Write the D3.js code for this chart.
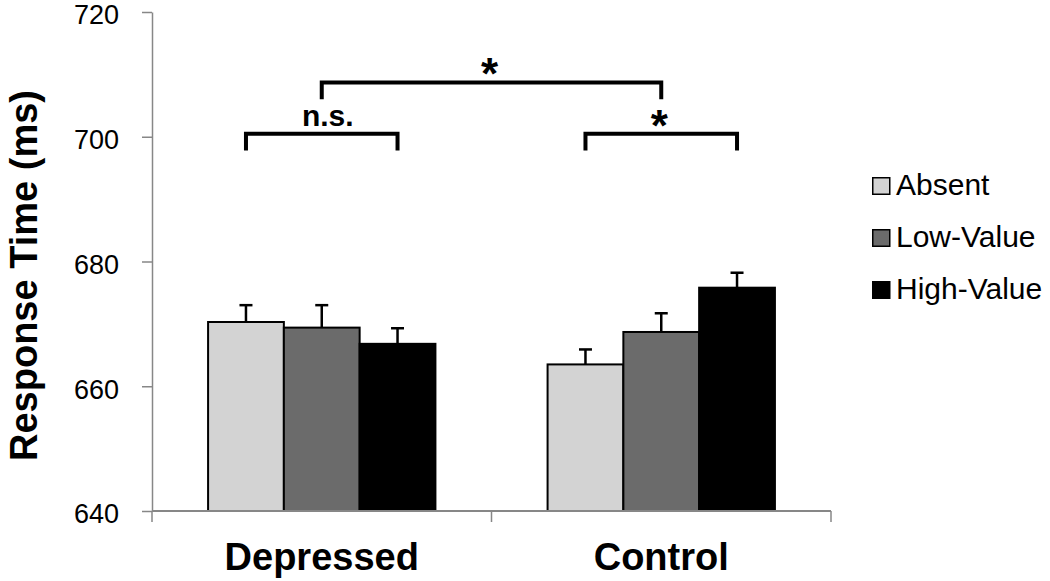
<!DOCTYPE html>
<html>
<head>
<meta charset="utf-8">
<script src="https://cdn.jsdelivr.net/npm/d3@7"></script>
<style>
  html, body { margin: 0; padding: 0; background: #fff; }
  svg { display: block; }
  text { font-family: "Liberation Sans", Arial, Helvetica, sans-serif; fill: #000; }
</style>
</head>
<body>
<svg id="chart" width="1050" height="581"></svg>
<script>
// ---- data ----
const groups = ["Depressed", "Control"];
const series = ["Absent", "Low-Value", "High-Value"];
const meansDepressed = [670.3, 669.4, 666.8];
const meansControl = [663.5, 668.7, 675.8];
const errDepressed = [2.7, 3.6, 2.5];
const errControl = [2.4, 3.0, 2.4];
const yTicks = [640, 660, 680, 700, 720];
const colors = ["#d3d3d3", "#6b6b6b", "#000000"];
// significance brackets: [group, series] endpoints, bar level and leg bottom (ms)
const brackets = [
  { from: [0, 0], to: [0, 2], top: 700.5, bottom: 697.8, label: "n.s." },
  { from: [0, 1], to: [1, 1], top: 708.7, bottom: 706.0, label: "*" },
  { from: [1, 0], to: [1, 2], top: 700.5, bottom: 697.8, label: "*" }
];

(function () {
const means = [meansDepressed, meansControl];
const errs = [errDepressed, errControl];
const rows = [];
groups.forEach((g, gi) => series.forEach((s, si) => rows.push({ g, gi, s, si, v: means[gi][si], e: errs[gi][si] })));

// ---- layout ----
const svg = d3.select("#chart");
const mLeft = 152, mRight = 831, mTop = 12, mBottom = 511;

const y = d3.scaleLinear().domain([640, 720]).range([mBottom, mTop]);
const x0 = d3.scaleBand().domain(groups).range([mLeft, mRight]).padding(0);
const x1 = d3.scaleBand().domain(series).range([0, x0.bandwidth()]).paddingInner(0).paddingOuter(0.74);
const color = d3.scaleOrdinal().domain(series).range(colors);
const cx = (gi, si) => x0(groups[gi]) + x1(series[si]) + x1.bandwidth() / 2;

// y axis
const yAxis = svg.append("g")
  .attr("transform", `translate(${mLeft},0)`)
  .call(d3.axisLeft(y).tickValues(yTicks).tickSize(10).tickSizeOuter(0).tickPadding(23).tickFormat(d3.format("d")));
yAxis.select(".domain").attr("stroke", "#878787").attr("stroke-width", 1.5);
yAxis.selectAll(".tick line").attr("stroke", "#878787").attr("stroke-width", 1.5);
yAxis.selectAll(".tick text")
  .attr("font-size", 27)
  .attr("font-family", "'Liberation Sans', Arial, sans-serif")
  .attr("fill", "#000")
  .attr("dy", "0.44em");

// bars
svg.append("g").selectAll("rect").data(rows).join("rect")
  .attr("x", d => x0(d.g) + x1(d.s))
  .attr("y", d => y(d.v))
  .attr("width", x1.bandwidth())
  .attr("height", d => y(640) - y(d.v))
  .attr("fill", d => color(d.s))
  .attr("stroke", "#000")
  .attr("stroke-width", 2);

// x axis (drawn over bar bottoms)
const xAxisG = svg.append("g");
xAxisG.append("line")
  .attr("x1", mLeft).attr("x2", mRight).attr("y1", mBottom).attr("y2", mBottom)
  .attr("stroke", "#878787").attr("stroke-width", 1.8);
const edges = groups.map(g => x0(g)).concat([x0(groups[groups.length - 1]) + x0.bandwidth()]);
xAxisG.selectAll("line.tk").data(edges).join("line").attr("class", "tk")
  .attr("x1", d => d).attr("x2", d => d).attr("y1", mBottom).attr("y2", mBottom + 11)
  .attr("stroke", "#878787").attr("stroke-width", 1.5);
xAxisG.selectAll("text").data(groups).join("text")
  .attr("x", d => x0(d) + x0.bandwidth() / 2)
  .attr("y", 570)
  .attr("text-anchor", "middle")
  .attr("font-size", 38)
  .attr("font-weight", "bold")
  .text(d => d);

// error bars
const eb = svg.append("g").attr("stroke", "#000").attr("stroke-width", 2.5);
eb.selectAll("line.v").data(rows).join("line").attr("class", "v")
  .attr("x1", d => cx(d.gi, d.si)).attr("x2", d => cx(d.gi, d.si))
  .attr("y1", d => y(d.v)).attr("y2", d => y(d.v + d.e));
eb.selectAll("line.c").data(rows).join("line").attr("class", "c")
  .attr("x1", d => cx(d.gi, d.si) - 6.5).attr("x2", d => cx(d.gi, d.si) + 6.5)
  .attr("y1", d => y(d.v + d.e)).attr("y2", d => y(d.v + d.e));

// y title
svg.append("text")
  .attr("transform", `translate(37,${(y(640) + y(720)) / 2 + 14}) rotate(-90)`)
  .attr("text-anchor", "middle")
  .attr("font-size", 38)
  .attr("font-weight", "bold")
  .text("Response Time (ms)");

// brackets
const bg = svg.append("g");
brackets.forEach(b => {
  const xa = cx(b.from[0], b.from[1]), xb = cx(b.to[0], b.to[1]);
  bg.append("path")
    .attr("d", `M${xa},${y(b.bottom)}V${y(b.top)}H${xb}V${y(b.bottom)}`)
    .attr("fill", "none").attr("stroke", "#000").attr("stroke-width", 4)
    .attr("stroke-linejoin", "miter").attr("stroke-linecap", "butt");
  const isStar = b.label === "*";
  bg.append("text")
    .attr("x", (xa + xb) / 2 + (isStar ? -2 : 6))
    .attr("y", isStar ? y(b.top) + 7 : y(b.top) - 8)
    .attr("text-anchor", "middle")
    .attr("font-size", isStar ? 44 : 30)
    .attr("font-weight", "bold")
    .text(b.label);
});

// legend
const lg = svg.append("g").attr("transform", "translate(872,177)");
const li = lg.selectAll("g").data(series).join("g")
  .attr("transform", (d, i) => `translate(0,${i * 52})`);
li.append("rect")
  .attr("x", 0.75).attr("y", 0.75).attr("width", 17).attr("height", 16.5)
  .attr("fill", d => color(d)).attr("stroke", "#000").attr("stroke-width", 1.5);
li.append("text")
  .attr("x", 24).attr("y", 18)
  .attr("font-size", 30)
  .text(d => d);
})();
</script>
</body>
</html>
